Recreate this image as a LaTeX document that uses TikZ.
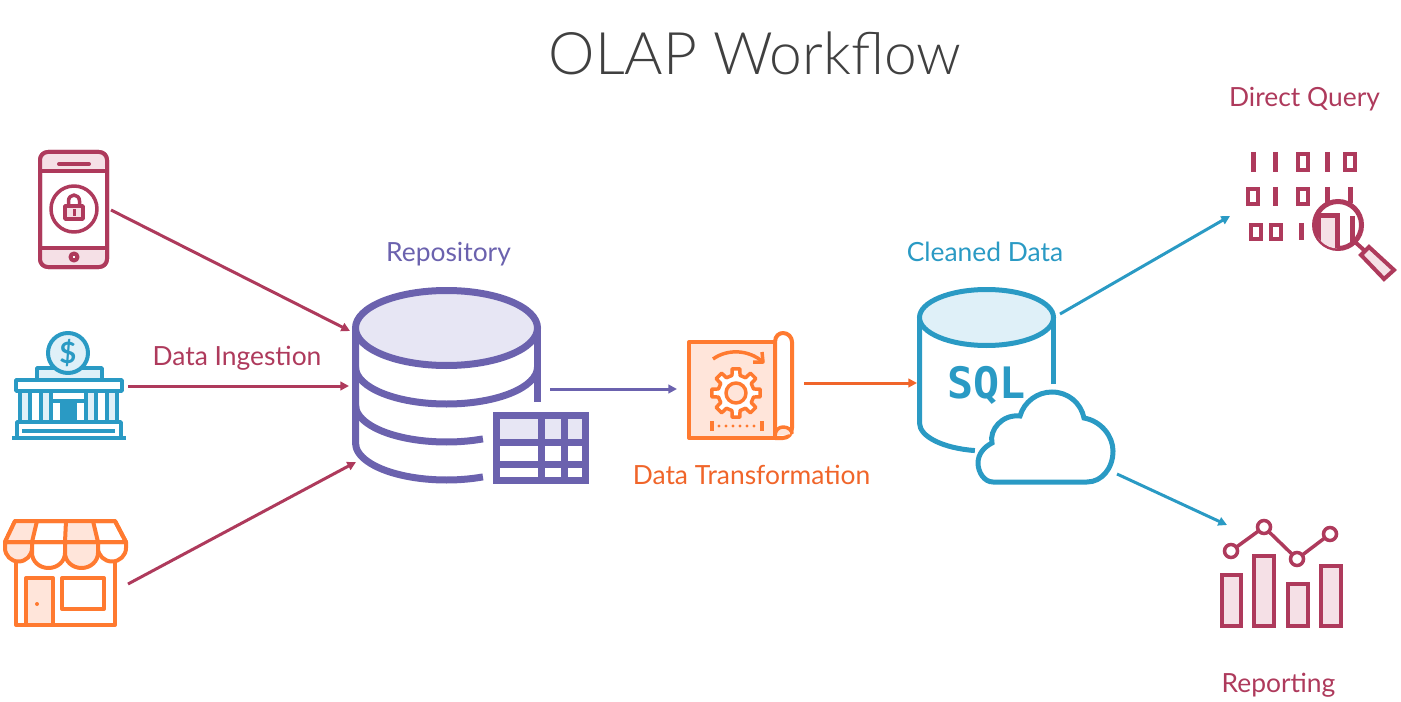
\documentclass[tikz,border=0pt]{standalone}
\usepackage{fontspec}
\setmainfont{Lato}
\newfontfamily\titlefont{Lato Light}
\newfontfamily\sqlfont{DejaVu Sans Mono}
\usetikzlibrary{arrows.meta}
\definecolor{crim}{HTML}{AE3A5C}
\definecolor{crimpale}{HTML}{F5E0E6}
\definecolor{purp}{HTML}{6B62AE}
\definecolor{purppale}{HTML}{E7E6F4}
\definecolor{teal1}{HTML}{2A9AC4}
\definecolor{tealpale}{HTML}{DFF0F8}
\definecolor{orng}{HTML}{FF7A30}
\definecolor{orngdark}{HTML}{F0652A}
\definecolor{orngpale}{HTML}{FFE5DA}
\definecolor{titlegray}{HTML}{404040}
\tikzset{
  x=0.75pt,y=-0.75pt,
  px/.style={line width=#1*0.75pt},
  flow/.style={px=3,-{Triangle[length=6.5pt,width=6.5pt]}},
  lab/.style={anchor=base,font=\fontsize{19.8}{22}\selectfont,inner sep=0pt},
  iconline/.style={px=4,line join=round},
}
\begin{document}
\begin{tikzpicture}
\useasboundingbox (0,0) rectangle (1401,702);
% ---- title and labels
\node[anchor=base,inner sep=0pt,text=titlegray,font=\titlefont\fontsize{44}{48}\selectfont] (title) at (755,75) {OLAP Workflow};
\node[lab,text=crim] (lquery) at (1304.5,107) {Direct Query};
\node[lab,text=crim] (lingest) at (237,365) {Data Ingestion};
\node[lab,text=purp] (lrepo) at (448.5,261) {Repository};
\node[lab,text=orngdark] (ltrans) at (751.5,484) {Data Transformation};
\node[lab,text=teal1] (lclean) at (985,261) {Cleaned Data};
\node[lab,text=crim] (lreport) at (1278.5,692) {Reporting};
% ---- phone
\begin{scope}[iconline,draw=crim]
\draw[fill=white,rounded corners=6] (40,152) rectangle (107,267);
\fill[crimpale,rounded corners=5] (41,153) rectangle (106,171);
\fill[crimpale,rounded corners=5] (41,248) rectangle (106,266);
\draw[rounded corners=6] (40,152) rectangle (107,267);
\draw (40,171) -- (107,171) (40,248) -- (107,248);
\draw[line cap=round] (59,164) -- (89,164);
\draw[fill=white] (74,257) circle (3.5);
\draw[px=3.5] (74,209) circle (23);
\draw[px=3.5] (68.5,206) -- (68.5,201) arc[start angle=180,end angle=360,x radius=5.5,y radius=6] -- (79.5,206);
\draw[px=3.5,fill=crimpale] (65,206) rectangle (83,219);
\fill[crim] (72.5,209) rectangle (75.5,216);
\end{scope}
% ---- bank
\begin{scope}[iconline,px=3.5,draw=teal1]
\draw[fill=tealpale] (37,368) rectangle (102,380);
\draw[fill=tealpale,px=4] (68,353) circle (20);
\node[inner sep=0pt,text=teal1,font=\bfseries\fontsize{22}{24}\selectfont] (dollar) at (68,353) {\$};
\foreach \l in {20,41,86,107}{\draw[fill=tealpale] (\l,391) rectangle ++(10,31);}
\draw (51,401) -- (86,401);
\fill[teal1] (60,401) rectangle (77,422);
\draw[fill=white] (16,380) rectangle (122,391);
\draw[fill=white] (17,422) rectangle (121,438);
\draw[fill=tealpale] (22,431) -- (115,431);
\draw (12,438) -- (126,438);
\end{scope}
% ---- shop
\begin{scope}[iconline,draw=orng]
\draw[fill=white] (16,555) -- (16,625) -- (115,625) -- (115,555);
\draw[fill=orngpale] (26,578) rectangle (53,625);
\fill[orng] (37,604) circle (2);
\draw[fill=white] (62,578) rectangle (104,609);
\draw[fill=white] (15,521) -- (115,521) -- (126,542) -- (5,542) -- cycle;
\fill[orngpale] (15,521) -- (37,521) -- (32,542) -- (5,542) -- cycle;
\fill[orngpale] (66,521) -- (93,521) -- (98,542) -- (65,542) -- cycle;
\draw[fill=orngpale] (5,542) -- (5,548) arc[start angle=180,end angle=0,x radius=13.5,y radius=13.5] -- (32,542) -- cycle;
\draw[fill=white] (32,542) -- (32,553) arc[start angle=180,end angle=0,x radius=16.5,y radius=15] -- (65,542) -- cycle;
\draw[fill=orngpale] (65,542) -- (65,553) arc[start angle=180,end angle=0,x radius=16.5,y radius=15] -- (98,542) -- cycle;
\draw[fill=white] (98,542) -- (98,548) arc[start angle=180,end angle=0,x radius=14,y radius=13.5] -- (126,542) -- cycle;
\draw (15,521) -- (115,521) -- (126,542) -- (5,542) -- cycle;
\draw (37,521) -- (32,542) (66,521) -- (65,542) (93,521) -- (98,542);
\end{scope}
% ---- repository
\begin{scope}[px=7,draw=purp]
\draw (537.5,402) -- (537.5,328);
\draw (355.5,328) -- (355.5,443) arc[start angle=180,end angle=66.4,x radius=91,y radius=37];
\draw (355.5,405) arc[start angle=180,end angle=66.4,x radius=91,y radius=37];
\draw (355.5,367) arc[start angle=180,end angle=0,x radius=91,y radius=37];
\draw[fill=purppale] (446.5,328) ellipse[x radius=91,y radius=37.5];
\fill[purppale] (496.5,415.5) rectangle (585.5,442);
\draw (496.5,415.5) rectangle (585.5,480.5);
\draw (541,415.5) -- (541,480.5) (564,415.5) -- (564,480.5);
\draw (496.5,442) -- (585.5,442) (496.5,464) -- (585.5,464);
\end{scope}
% ---- transformation scroll
\begin{scope}[iconline,draw=orng]
\draw[fill=orngpale] (689,342) -- (775,342) -- (775,438) -- (689,438) -- cycle;
\draw[fill=white] (775,342) .. controls (775,336) and (779,333) .. (783,333) .. controls (788,333) and (792,337) .. (792,342) -- (792,428) .. controls (792,434) and (788,438) .. (783,438) -- (775,438) -- cycle;
\draw[fill=orngpale,px=3.5] (775,436) .. controls (775,430) and (779,427) .. (783,427) .. controls (788,427) and (792,430) .. (792,434);
\draw[px=3.5] (713,359) .. controls (727,349) and (748,349) .. (763,362);
\draw[px=3.5] (753,362) -- (763,362) -- (762,352);
\begin{scope}[shift={(736,393)}]
\draw[px=3.5,fill=white] (-13:18) \foreach \a in {0,45,...,315}{ -- (\a-13:18) -- (\a-9:24.5) -- (\a+9:24.5) -- (\a+13:18)} -- cycle;
\draw[px=3.5,fill=orngpale] (0,0) circle (10);
\end{scope}
\draw[px=3.5] (712,421) -- (712,431) (762,421) -- (762,431);
\foreach \p in {719,726,733,740,747,754}{\fill[orng] (\p,426) circle (1.6);}
\end{scope}
% ---- SQL database
\begin{scope}[px=5,draw=teal1]
\draw (1053.5,384) -- (1053.5,317.5);
\draw (919.5,317.5) -- (919.5,423) arc[start angle=180,end angle=100,x radius=67,y radius=28];
\draw[fill=tealpale] (986.5,317.5) ellipse[x radius=67,y radius=28];
\node[inner sep=0pt,anchor=base,text=teal1,font=\sqlfont\bfseries\fontsize{32.5}{36}\selectfont] (sql) at (986.5,398) {SQL};
\draw[fill=white] (993,482) .. controls (984,482) and (978,472) .. (978,463)
  .. controls (978,454) and (984,447) .. (992,443)
  .. controls (989,430) and (1002,414) .. (1020,416)
  .. controls (1024,402) and (1037,392) .. (1052,392)
  .. controls (1068,392) and (1081,403) .. (1084,418)
  .. controls (1101,421) and (1113,436) .. (1113,451)
  .. controls (1113,468) and (1102,482) .. (1087,482) -- cycle;
\end{scope}
% ---- direct query icon
\begin{scope}[px=5,draw=crim]
\foreach \x in {1253,1275,1327}{\draw (\x,152) -- (\x,172);}
\begin{scope}[px=4]
\foreach \x in {1298,1345}{\draw (\x,154) rectangle ++(9.5,16);}
\foreach \x in {1248,1298}{\draw (\x,189) rectangle ++(9.5,15);}
\foreach \x in {1251,1271}{\draw (\x,225) rectangle ++(9.5,13.5);}
\end{scope}
\draw (1275,187) -- (1275,206);
\draw (1327,187) -- (1327,203) (1350,187) -- (1350,203);
\draw (1301,223) -- (1301,240);
\draw[px=5,fill=white] (1338,225) circle (23.5);
\begin{scope}
\clip (1338,225) circle (23.5);
\draw[px=5,fill=crimpale] (1310,216) -- (1337,216) -- (1337,250) -- (1318,250) -- (1318,216);
\draw[px=5] (1352,216) -- (1352,250);
\end{scope}
\draw[px=4] (1355,242) -- (1365,251);
\draw[px=4,fill=crimpale] (1369,247) -- (1394,270) -- (1384,279) -- (1361,255) -- cycle;
\end{scope}
% ---- reporting icon
\begin{scope}[px=3.5,draw=crim]
\draw[fill=crimpale] (1222,575) rectangle (1241,626);
\draw[fill=crimpale] (1254,556) rectangle (1274,626);
\draw[fill=crimpale] (1288,584) rectangle (1308,626);
\draw[fill=crimpale] (1321,566) rectangle (1341,626);
\draw (1231,551) -- (1264,527) -- (1297,559) -- (1330,534);
\foreach \p in {(1231,551),(1264,527),(1297,559),(1330,534)}{\draw[fill=white] \p circle (6.5);}
\end{scope}
% ---- connector ends
\coordinate (phoneout) at (111,210);
\coordinate (bankout) at (128,386);
\coordinate (shopout) at (128,584);
\coordinate (repoinA) at (350,331);
\coordinate (repoinB) at (349,386);
\coordinate (repoinC) at (356,462);
\coordinate (repoout) at (550,389);
\coordinate (transin) at (677,389);
\coordinate (transout) at (804,383);
\coordinate (sqlin) at (917,383);
\coordinate (sqloutA) at (1060,314);
\coordinate (sqloutB) at (1117,474);
\coordinate (queryin) at (1230,216);
\coordinate (reportin) at (1227,525);
% ---- connectors
\draw[flow,draw=crim,fill=crim] (phoneout) -- (repoinA);
\draw[flow,draw=crim,fill=crim] (bankout) -- (repoinB);
\draw[flow,draw=crim,fill=crim] (shopout) -- (repoinC);
\draw[flow,draw=purp,fill=purp] (repoout) -- (transin);
\draw[flow,draw=orngdark,fill=orngdark] (transout) -- (sqlin);
\draw[flow,draw=teal1,fill=teal1] (sqloutA) -- (queryin);
\draw[flow,draw=teal1,fill=teal1] (sqloutB) -- (reportin);
\end{tikzpicture}
\end{document}
